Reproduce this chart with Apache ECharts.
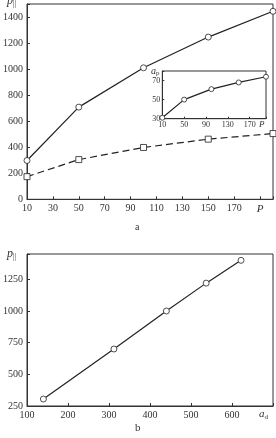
<!DOCTYPE html>
<html><head><meta charset="utf-8">
<script src="https://cdn.jsdelivr.net/npm/echarts@6/dist/echarts.min.js"></script>
<style>html,body{margin:0;padding:0;background:#fff}#c{width:276px;height:438px}</style>
</head><body><div id="c"></div>
<script>
// Panel a: main chart
const xP = [10, 50, 100, 150, 200];
const pParallel = [298, 708, 1010, 1246, 1444];
const pPerp = [174, 305, 398, 462, 505];
// Panel a: inset
const insetAp = [31, 50, 61, 68, 74];
// Panel b
const adX = [140, 312, 440, 537, 622];
const adY = [305, 700, 1000, 1220, 1400];

const FF = 'Liberation Serif';
const TC = '#333';
const LC = '#222';

function axisBase(fs, margin) {
  return {
    type: 'value',
    axisLine: { show: true, lineStyle: { color: TC, width: 1 } },
    axisTick: { show: true, inside: true, length: 3, lineStyle: { color: TC, width: 1 } },
    splitLine: { show: false },
    axisLabel: {
      fontFamily: FF, fontSize: fs, color: TC, margin: margin,
      rich: { i: { fontFamily: FF, fontStyle: 'italic', fontSize: fs + 1, color: TC } }
    }
  };
}
function mk(base, extra) {
  const o = JSON.parse(JSON.stringify(base));
  for (const k in extra) {
    if (typeof extra[k] === 'object' && !Array.isArray(extra[k]) && o[k]) Object.assign(o[k], extra[k]);
    else o[k] = extra[k];
  }
  return o;
}

const gridStyle = { show: true, borderColor: TC, borderWidth: 1, backgroundColor: 'transparent' };

const xa0 = mk(axisBase(10, 4), { gridIndex: 0, min: 10, max: 200, interval: 20 });
xa0.axisLabel.formatter = v => v === 190 ? '{i|P}' : (v >= 200 ? '' : String(v));
const ya0 = mk(axisBase(10, 4), { gridIndex: 0, min: 0, max: 1500, interval: 200 });
ya0.axisLabel.formatter = v => v >= 1500 ? '' : String(v);

const xa1 = mk(axisBase(8, 2), { gridIndex: 1, min: 10, max: 200, interval: 40 });
xa1.axisLabel.formatter = v => v >= 200 ? '' : String(v);
xa1.axisTick.length = 2;
const ya1 = mk(axisBase(8, 2), { gridIndex: 1, min: 30, max: 80, interval: 20 });
ya1.axisLabel.formatter = v => v >= 80 ? '' : String(v);
ya1.axisTick.length = 2;

const xa2 = mk(axisBase(10, 4), { gridIndex: 2, min: 100, max: 700, interval: 100 });
xa2.axisLabel.formatter = v => v >= 700 ? '' : String(v);
const ya2 = mk(axisBase(10, 4), { gridIndex: 2, min: 250, max: 1450, interval: 250 });
ya2.axisLabel.formatter = v => v >= 1450 ? '' : String(v);

function zip(a, b) { return a.map((v, i) => [v, b[i]]); }

const lineSeries = (xi, data, symbol, dashed) => ({
  type: 'line', xAxisIndex: xi, yAxisIndex: xi, data: data,
  symbol: symbol, symbolSize: xi === 1 ? 5 : 6,
  lineStyle: { color: LC, width: 1.2, type: dashed ? [7, 4] : 'solid' },
  itemStyle: { color: '#fff', borderColor: LC, borderWidth: 0.8 },
  z: 3
});

const ptext = (x, y) => ({
  type: 'text', left: x, top: y,
  style: {
    text: '{p|p}{s|||}',
    rich: {
      p: { fontFamily: FF, fontStyle: 'italic', fontSize: 12, fill: TC },
      s: { fontFamily: FF, fontSize: 8, fill: TC, padding: [6, 0, 0, 0] }
    }
  }
});

const chart = echarts.init(document.getElementById('c'), null, { renderer: 'canvas' });
chart.setOption({
  animation: false,
  backgroundColor: '#fff',
  grid: [
    Object.assign({ left: 23.3, right: 2.7, top: 4, height: 195.3 }, gridStyle),
    Object.assign({ left: 162.3, top: 71, width: 103.7, height: 47.7 }, gridStyle),
    Object.assign({ left: 23.3, right: 2.7, top: 254, height: 152 }, gridStyle)
  ],
  xAxis: [xa0, xa1, xa2],
  yAxis: [ya0, ya1, ya2],
  series: [
    lineSeries(0, zip(xP, pParallel), 'circle', false),
    lineSeries(0, zip(xP, pPerp), 'rect', true),
    lineSeries(1, zip(xP, insetAp), 'circle', false),
    lineSeries(2, zip(adX, adY), 'circle', false)
  ],
  graphic: [
    ptext(7, -5),
    ptext(7, 248),
    {
      type: 'text', left: 151, top: 66,
      style: {
        text: '{a|a}{s|p}',
        rich: {
          a: { fontFamily: FF, fontStyle: 'italic', fontSize: 10, fill: TC },
          s: { fontFamily: FF, fontSize: 7, fill: TC, padding: [5, 0, 0, 0] }
        }
      }
    },
    { type: 'text', left: 259, top: 120,
      style: { text: 'P', fontFamily: FF, fontStyle: 'italic', fontSize: 9, fill: TC } },
    {
      type: 'text', left: 259, top: 409,
      style: {
        text: '{a|a}{s|d}',
        rich: {
          a: { fontFamily: FF, fontStyle: 'italic', fontSize: 11, fill: TC },
          s: { fontFamily: FF, fontSize: 7, fill: TC, padding: [6, 0, 0, 0] }
        }
      }
    },
    { type: 'text', left: 135, top: 222, style: { text: 'a', fontFamily: FF, fontSize: 10, fill: TC } },
    { type: 'text', left: 135, top: 423, style: { text: 'b', fontFamily: FF, fontSize: 11, fill: TC } }
  ]
});
</script>
</body></html>
